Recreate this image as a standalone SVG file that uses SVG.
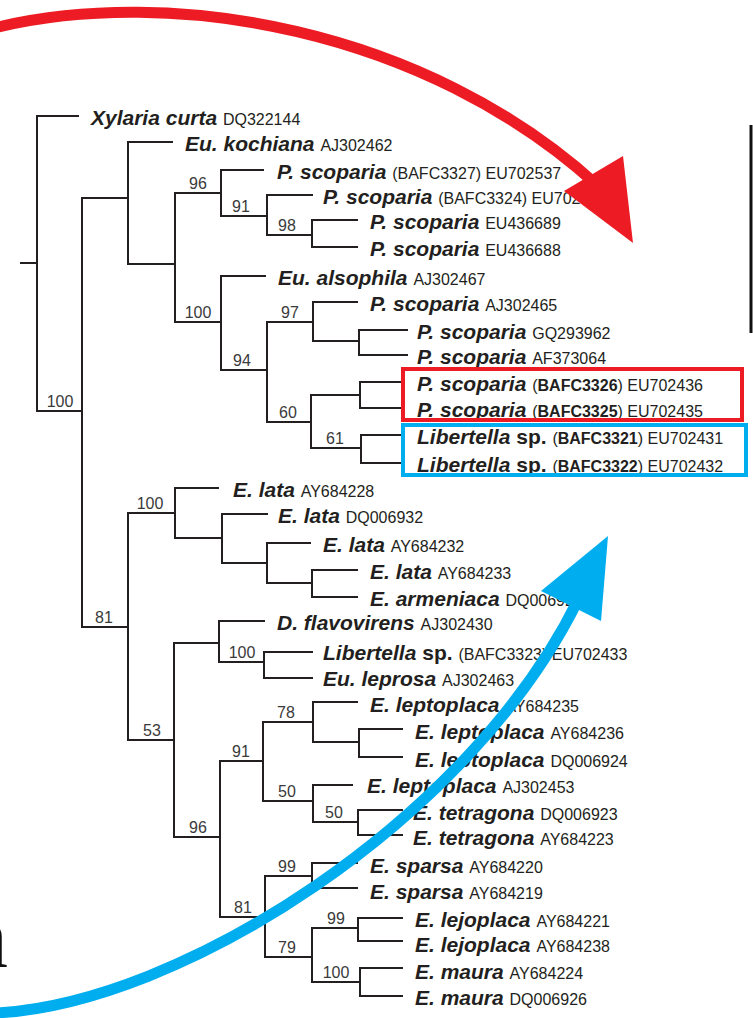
<svg xmlns="http://www.w3.org/2000/svg" width="753" height="1018" viewBox="0 0 753 1018">
<style>
.t{font-family:"Liberation Sans",Arial,sans-serif;font-size:21px;font-weight:bold;font-style:italic;fill:#231f20}
.a{font-size:16px;font-weight:normal;font-style:normal}
.b{font-weight:bold}
.u{font-style:normal}
.bs{font-family:"Liberation Sans",Arial,sans-serif;font-size:16px;fill:#3a3a3a;text-anchor:middle}
.br{fill:none;stroke:#231f20;stroke-width:2;stroke-linecap:square}
.arc{fill:none;stroke-width:11}
</style>
<rect width="753" height="1018" fill="#ffffff"/>
<g id="connectors">
<path class="br" d="M21,263H37 M37,116V411 M37,116H78 M37,411H82
M82,198V627 M82,198H128 M82,627H128
M128,142V264 M128,142H172 M128,264H175
M175,193V322 M175,193H221 M175,322H221
M221,170V216 M221,170H263 M221,216H267
M267,195V235 M267,195H312 M267,235H312
M312,220V247 M312,220H357 M312,247H357
M221,276V370 M221,276H265 M221,370H267
M267,322V422 M267,322H313 M267,422H311
M313,302V341 M313,302H357 M313,341H359
M359,330V355 M359,330H407 M359,355H407
M311,395V448 M311,395H360 M311,448H361
M360,382V408 M360,382H400 M360,408H400
M361,435V463 M361,435H400 M361,463H400
M128,513V740 M128,513H175 M128,740H174
M175,488V538 M175,488H218 M175,538H222
M222,514V563 M222,514H267 M222,563H267
M267,543V583 M267,543H310 M267,583H312
M312,570V597 M312,570H357 M312,597H357
M174,643V837 M174,643H219 M174,837H220
M219,621V662 M219,621H264 M219,662H264
M264,652V678 M264,652H312 M264,678H312
M220,761V917 M220,761H263 M220,917H265
M263,722V801 M263,722H313 M263,801H313
M313,702V742 M313,702H357 M313,742H359
M359,729V757 M359,729H402 M359,757H402
M313,785V822 M313,785H352 M313,822H358
M358,810V835 M358,810H402 M358,835H402
M265,876V957 M265,876H312 M265,957H312
M312,863V888 M312,863H357 M312,888H357
M312,928V982 M312,928H358 M312,982H360
M358,918V941 M358,918H402 M358,941H402
M360,968V996 M360,968H402 M360,996H402"/>
</g>
<g id="support">
<text class="bs" x="60" y="407">100</text>
<text class="bs" x="104" y="623">81</text>
<text class="bs" x="150" y="509">100</text>
<text class="bs" x="152" y="736">53</text>
<text class="bs" x="198" y="189">96</text>
<text class="bs" x="198" y="318">100</text>
<text class="bs" x="241" y="212">91</text>
<text class="bs" x="287" y="231">98</text>
<text class="bs" x="290" y="318">97</text>
<text class="bs" x="242" y="366">94</text>
<text class="bs" x="288" y="418">60</text>
<text class="bs" x="335" y="444">61</text>
<text class="bs" x="242" y="658">100</text>
<text class="bs" x="198" y="833">96</text>
<text class="bs" x="241" y="757">91</text>
<text class="bs" x="243" y="913">81</text>
<text class="bs" x="286" y="718">78</text>
<text class="bs" x="287" y="797">50</text>
<text class="bs" x="334" y="818">50</text>
<text class="bs" x="287" y="872">99</text>
<text class="bs" x="287" y="953">79</text>
<text class="bs" x="336" y="924">99</text>
<text class="bs" x="336" y="978">100</text>
</g>
<g id="leaf1"><text class="t" x="91" y="125">Xylaria curta <tspan class="a">DQ322144</tspan></text></g>
<g id="leaf2"><text class="t" x="185" y="151">Eu. kochiana <tspan class="a">AJ302462</tspan></text></g>
<g id="leaf3"><text class="t" x="277" y="179">P. scoparia <tspan class="a">(BAFC3327) EU702537</tspan></text></g>
<g id="leaf4"><text class="t" x="323" y="204">P. scoparia <tspan class="a">(BAFC3324) EU702434</tspan></text></g>
<g id="leaf5"><text class="t" x="370" y="229">P. scoparia <tspan class="a">EU436689</tspan></text></g>
<g id="leaf6"><text class="t" x="370" y="256">P. scoparia <tspan class="a">EU436688</tspan></text></g>
<g id="leaf7"><text class="t" x="278" y="285">Eu. alsophila <tspan class="a">AJ302467</tspan></text></g>
<g id="leaf8"><text class="t" x="370" y="311">P. scoparia <tspan class="a">AJ302465</tspan></text></g>
<g id="leaf9"><text class="t" x="417" y="339">P. scoparia <tspan class="a">GQ293962</tspan></text></g>
<g id="leaf10"><text class="t" x="417" y="364">P. scoparia <tspan class="a">AF373064</tspan></text></g>
<g id="leaf11"><text class="t" x="417" y="391">P. scoparia <tspan class="a">(<tspan class="b">BAFC3326</tspan>) EU702436</tspan></text></g>
<g id="leaf12"><text class="t" x="417" y="417">P. scoparia <tspan class="a">(<tspan class="b">BAFC3325</tspan>) EU702435</tspan></text></g>
<g id="leaf13"><text class="t" x="417" y="444">Libertella<tspan class="u"> sp.</tspan> <tspan class="a">(<tspan class="b">BAFC3321</tspan>) EU702431</tspan></text></g>
<g id="leaf14"><text class="t" x="417" y="472">Libertella<tspan class="u"> sp.</tspan> <tspan class="a">(<tspan class="b">BAFC3322</tspan>) EU702432</tspan></text></g>
<g id="leaf15"><text class="t" x="233" y="497">E. lata <tspan class="a">AY684228</tspan></text></g>
<g id="leaf16"><text class="t" x="278" y="523">E. lata <tspan class="a">DQ006932</tspan></text></g>
<g id="leaf17"><text class="t" x="323" y="552">E. lata <tspan class="a">AY684232</tspan></text></g>
<g id="leaf18"><text class="t" x="370" y="579">E. lata <tspan class="a">AY684233</tspan></text></g>
<g id="leaf19"><text class="t" x="370" y="606">E. armeniaca <tspan class="a">DQ006925</tspan></text></g>
<g id="leaf20"><text class="t" x="277" y="630">D. flavovirens <tspan class="a">AJ302430</tspan></text></g>
<g id="leaf21"><text class="t" x="323" y="660">Libertella<tspan class="u"> sp.</tspan> <tspan class="a">(BAFC3323) EU702433</tspan></text></g>
<g id="leaf22"><text class="t" x="323" y="686">Eu. leprosa <tspan class="a">AJ302463</tspan></text></g>
<g id="leaf23"><text class="t" x="370" y="712">E. leptoplaca <tspan class="a">AY684235</tspan></text></g>
<g id="leaf24"><text class="t" x="415" y="739">E. leptoplaca <tspan class="a">AY684236</tspan></text></g>
<g id="leaf25"><text class="t" x="415" y="767">E. leptoplaca <tspan class="a">DQ006924</tspan></text></g>
<g id="leaf26"><text class="t" x="367" y="793">E. leptoplaca <tspan class="a">AJ302453</tspan></text></g>
<g id="leaf27"><text class="t" x="413" y="820">E. tetragona <tspan class="a">DQ006923</tspan></text></g>
<g id="leaf28"><text class="t" x="413" y="845">E. tetragona <tspan class="a">AY684223</tspan></text></g>
<g id="leaf29"><text class="t" x="370" y="873">E. sparsa <tspan class="a">AY684220</tspan></text></g>
<g id="leaf30"><text class="t" x="370" y="899">E. sparsa <tspan class="a">AY684219</tspan></text></g>
<g id="leaf31"><text class="t" x="415" y="927">E. lejoplaca <tspan class="a">AY684221</tspan></text></g>
<g id="leaf32"><text class="t" x="415" y="952">E. lejoplaca <tspan class="a">AY684238</tspan></text></g>
<g id="leaf33"><text class="t" x="415" y="979">E. maura <tspan class="a">AY684224</tspan></text></g>
<g id="leaf34"><text class="t" x="415" y="1005">E. maura <tspan class="a">DQ006926</tspan></text></g>
<g id="box-red"><rect x="403" y="369" width="339" height="51" fill="none" stroke="#ed1c24" stroke-width="4"/></g>
<g id="box-blue"><rect x="403" y="425" width="343" height="50" fill="none" stroke="#00aeef" stroke-width="4"/></g>
<g id="bar"><line x1="751" y1="125" x2="751" y2="333" stroke="#111" stroke-width="3"/></g>
<g id="edge-letter"><text x="-36" y="967" font-family="'Liberation Serif',serif" font-size="88" fill="#111">n</text></g>
<g id="arrow-red">
<path class="arc" stroke="#ed1c24" d="M-6,28 C170,-15 425,28 598,186"/>
<polygon fill="#ed1c24" points="564,191 623,156 633,243"/>
</g>
<g id="arrow-blue">
<path class="arc" stroke="#00aeef" d="M-6,1013 C180,1005 470,820 578,600"/>
<polygon fill="#00aeef" points="541,591 608,536 601,621"/>
</g>
</svg>
